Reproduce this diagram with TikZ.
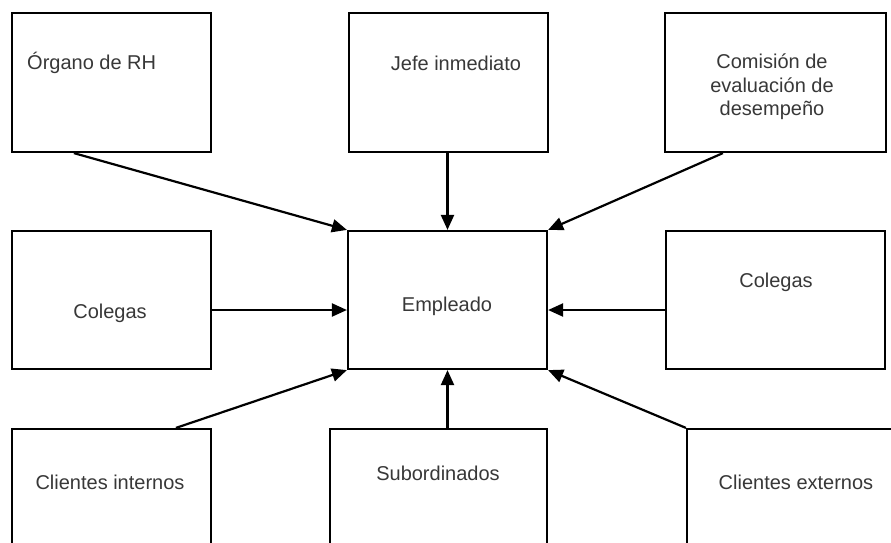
\documentclass[tikz,border=0pt]{standalone}
\usepackage{fontspec}
\setmainfont{Liberation Sans}
\usepackage{tikz}
\usetikzlibrary{arrows.meta,positioning}
\definecolor{texto}{HTML}{383838}
\tikzset{caja/.style={draw,rectangle,line width=2.2pt,inner sep=0pt},
         etiqueta/.style={text=texto,align=center,inner sep=0pt,font=\fontsize{20}{23.5}\selectfont},
         flecha/.style={line width=2.2pt,-{Triangle[length=15pt,width=13pt]}}}

\begin{document}
\begin{tikzpicture}[x=1pt,y=-1pt]
    \clip (0,0) rectangle (891,542);
    \fill[white] (0,0) rectangle (891,542);

    % cajas de arriba
    \node[caja,minimum width=199pt,minimum height=139pt] (rh) at (111.5,82.5) {};
    \node[caja,minimum width=199pt,minimum height=139pt] (jefe) at (448.5,82.5) {};
    \node[caja,minimum width=221pt,minimum height=139pt] (comision) at (775.5,82.5) {};

    % fila del medio
    \node[caja,minimum width=199pt,minimum height=138pt] (colegasI) at (111.5,300) {};
    \node[caja,minimum width=199pt,minimum height=138pt] (empleado) at (447.5,300) {};
    \node[caja,minimum width=219pt,minimum height=138pt] (colegasD) at (775.5,300) {};

    % cajas de abajo (cortadas por el borde)
    \node[caja,minimum width=199pt,minimum height=140pt] (cliInt) at (111.5,499) {};
    \node[caja,minimum width=217pt,minimum height=140pt] (sub) at (438.5,499) {};
    \node[caja,minimum width=213pt,minimum height=140pt] (cliExt) at (793.5,499) {};

    % textos
    \node[etiqueta,anchor=west] (trh) at (27,63) {Órgano de RH};
    \node[etiqueta] (tjefe) at (456,63) {Jefe inmediato};
    \node[etiqueta] (tcomision) at (772,87) {Comisión de\\evaluación de\\desempeño};
    \node[etiqueta] (tcolegasI) at (110,313) {Colegas};
    \node[etiqueta] (templeado) at (447,306) {Empleado};
    \node[etiqueta] (tcolegasD) at (776,282) {Colegas};
    \node[etiqueta] (tcliInt) at (110,482) {Clientes internos};
    \node[etiqueta] (tsub) at (438,473) {Subordinados};
    \node[etiqueta] (tcliExt) at (796,482) {Clientes externos};

    % flechas hacia el empleado
    \draw[flecha] ([xshift=63pt]rh.south west) -- (empleado.north west);
    \draw[flecha] (jefe.south -| empleado.north) -- (empleado.north);
    \draw[flecha] ([xshift=59pt]comision.south west) -- (empleado.north east);
    \draw[flecha] ([yshift=-10pt]colegasI.east) -- ([yshift=-10pt]empleado.west);
    \draw[flecha] ([yshift=-10pt]colegasD.west) -- ([yshift=-10pt]empleado.east);
    \draw[flecha] ([xshift=165pt]cliInt.north west) -- (empleado.south west);
    \draw[flecha] (sub.north -| empleado.south) -- (empleado.south);
    \draw[flecha] (cliExt.north west) -- (empleado.south east);
\end{tikzpicture}
\end{document}
